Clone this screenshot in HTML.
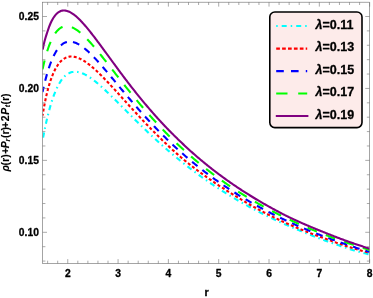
<!DOCTYPE html>
<html><head><meta charset="utf-8"><title>plot</title>
<style>
html,body{margin:0;padding:0;background:#fff;}
svg{display:block;}
text{font-family:"Liberation Sans",sans-serif;font-weight:bold;fill:#000;stroke:#000;stroke-width:0.3px;stroke-linejoin:round;}
svg{will-change:transform;}
.yl text{stroke-width:0.12px;}
</style></head><body>
<svg width="373" height="298" viewBox="0 0 373 298">
<rect width="373" height="298" fill="#fff"/>
<defs><clipPath id="c"><rect x="42.6" y="2.2" width="327.04999999999995" height="261.3"/></clipPath></defs>
<g clip-path="url(#c)">
<path d="M42.53,140.78 L43.35,136.37 L44.17,132.15 L44.99,128.11 L45.81,124.26 L46.63,120.58 L47.45,117.08 L48.27,113.76 L49.09,110.60 L49.91,107.60 L50.73,104.76 L51.55,102.08 L52.37,99.55 L53.19,97.16 L54.01,94.91 L54.83,92.80 L55.65,90.81 L56.47,88.96 L57.29,87.22 L58.11,85.60 L58.93,84.09 L59.75,82.69 L60.57,81.40 L61.39,80.20 L62.21,79.10 L63.03,78.10 L63.85,77.18 L64.67,76.34 L65.49,75.59 L66.31,74.91 L67.13,74.31 L67.95,73.78 L68.77,73.31 L69.59,72.92 L70.41,72.58 L71.23,72.31 L72.05,72.09 L72.87,71.93 L73.69,71.81 L74.51,71.75 L75.33,71.74 L76.15,71.77 L76.97,71.85 L77.80,71.97 L78.62,72.12 L79.44,72.32 L80.26,72.55 L81.08,72.81 L81.90,73.11 L82.72,73.44 L83.54,73.80 L84.36,74.19 L85.18,74.61 L86.00,75.05 L86.82,75.51 L87.64,76.00 L88.46,76.51 L89.28,77.04 L90.10,77.59 L90.92,78.17 L91.74,78.75 L92.56,79.36 L93.38,79.98 L94.20,80.62 L95.02,81.27 L95.84,81.93 L96.66,82.61 L97.48,83.29 L98.30,83.99 L99.12,84.69 L99.94,85.41 L100.76,86.14 L101.58,86.87 L102.40,87.61 L103.22,88.36 L104.04,89.11 L104.86,89.88 L105.68,90.64 L106.50,91.42 L107.32,92.20 L108.14,92.98 L108.96,93.77 L109.78,94.56 L110.60,95.35 L111.42,96.15 L112.25,96.96 L113.07,97.76 L113.89,98.57 L114.71,99.38 L115.53,100.19 L116.35,101.01 L117.17,101.82 L117.99,102.64 L118.81,103.46 L119.63,104.28 L120.45,105.10 L121.27,105.92 L122.09,106.75 L122.91,107.57 L123.73,108.39 L124.55,109.22 L125.37,110.04 L126.19,110.87 L127.01,111.69 L127.83,112.51 L128.65,113.34 L129.47,114.16 L130.29,114.98 L131.11,115.80 L131.93,116.62 L132.75,117.44 L133.57,118.26 L134.39,119.08 L135.21,119.90 L136.03,120.71 L136.85,121.52 L137.67,122.33 L138.49,123.14 L139.31,123.94 L140.13,124.75 L140.95,125.55 L141.77,126.35 L142.59,127.14 L143.41,127.94 L144.23,128.73 L145.05,129.52 L145.88,130.30 L146.70,131.09 L147.52,131.87 L148.34,132.65 L149.16,133.42 L149.98,134.19 L150.80,134.96 L151.62,135.73 L152.44,136.50 L153.26,137.26 L154.08,138.02 L154.90,138.77 L155.72,139.52 L156.54,140.27 L157.36,141.02 L158.18,141.76 L159.00,142.50 L159.82,143.24 L160.64,143.98 L161.46,144.71 L162.28,145.44 L163.10,146.16 L163.92,146.89 L164.74,147.61 L165.56,148.32 L166.38,149.04 L167.20,149.75 L168.02,150.46 L168.84,151.16 L169.66,151.86 L170.48,152.56 L171.30,153.26 L172.12,153.95 L172.94,154.64 L173.76,155.33 L174.58,156.01 L175.40,156.69 L176.22,157.37 L177.04,158.05 L177.86,158.72 L178.68,159.39 L179.50,160.05 L180.32,160.72 L181.15,161.38 L181.97,162.04 L182.79,162.69 L183.61,163.35 L184.43,164.00 L185.25,164.64 L186.07,165.29 L186.89,165.93 L187.71,166.57 L188.53,167.20 L189.35,167.84 L190.17,168.47 L190.99,169.09 L191.81,169.72 L192.63,170.34 L193.45,170.96 L194.27,171.57 L195.09,172.19 L195.91,172.80 L196.73,173.41 L197.55,174.01 L198.37,174.61 L199.19,175.21 L200.01,175.81 L200.83,176.40 L201.65,176.99 L202.47,177.58 L203.29,178.16 L204.11,178.75 L204.93,179.33 L205.75,179.90 L206.57,180.48 L207.39,181.05 L208.21,181.62 L209.03,182.18 L209.85,182.74 L210.67,183.30 L211.49,183.86 L212.31,184.42 L213.13,184.97 L213.95,185.52 L214.77,186.06 L215.60,186.61 L216.42,187.15 L217.24,187.68 L218.06,188.22 L218.88,188.75 L219.70,189.28 L220.52,189.81 L221.34,190.33 L222.16,190.86 L222.98,191.38 L223.80,191.89 L224.62,192.41 L225.44,192.92 L226.26,193.43 L227.08,193.94 L227.90,194.44 L228.72,194.95 L229.54,195.45 L230.36,195.95 L231.18,196.44 L232.00,196.94 L232.82,197.43 L233.64,197.92 L234.46,198.40 L235.28,198.89 L236.10,199.37 L236.92,199.85 L237.74,200.33 L238.56,200.80 L239.38,201.28 L240.20,201.75 L241.02,202.22 L241.84,202.68 L242.66,203.15 L243.48,203.61 L244.30,204.07 L245.12,204.53 L245.94,204.98 L246.76,205.43 L247.58,205.88 L248.40,206.33 L249.22,206.78 L250.05,207.22 L250.87,207.66 L251.69,208.10 L252.51,208.54 L253.33,208.98 L254.15,209.41 L254.97,209.84 L255.79,210.27 L256.61,210.70 L257.43,211.12 L258.25,211.54 L259.07,211.96 L259.89,212.38 L260.71,212.80 L261.53,213.21 L262.35,213.62 L263.17,214.03 L263.99,214.44 L264.81,214.85 L265.63,215.25 L266.45,215.66 L267.27,216.06 L268.09,216.45 L268.91,216.85 L269.73,217.25 L270.55,217.64 L271.37,218.03 L272.19,218.42 L273.01,218.81 L273.83,219.20 L274.65,219.58 L275.47,219.96 L276.29,220.34 L277.11,220.72 L277.93,221.10 L278.75,221.48 L279.57,221.85 L280.39,222.22 L281.21,222.59 L282.03,222.96 L282.85,223.33 L283.67,223.70 L284.50,224.06 L285.32,224.43 L286.14,224.79 L286.96,225.15 L287.78,225.51 L288.60,225.86 L289.42,226.22 L290.24,226.57 L291.06,226.93 L291.88,227.28 L292.70,227.63 L293.52,227.98 L294.34,228.32 L295.16,228.67 L295.98,229.01 L296.80,229.36 L297.62,229.70 L298.44,230.04 L299.26,230.38 L300.08,230.72 L300.90,231.05 L301.72,231.39 L302.54,231.73 L303.36,232.07 L304.18,232.40 L305.00,232.74 L305.82,233.07 L306.64,233.41 L307.46,233.74 L308.28,234.07 L309.10,234.41 L309.92,234.74 L310.74,235.07 L311.56,235.40 L312.38,235.72 L313.20,236.05 L314.02,236.37 L314.84,236.70 L315.66,237.02 L316.48,237.34 L317.30,237.66 L318.12,237.97 L318.95,238.29 L319.77,238.60 L320.59,238.91 L321.41,239.22 L322.23,239.52 L323.05,239.83 L323.87,240.13 L324.69,240.43 L325.51,240.73 L326.33,241.02 L327.15,241.32 L327.97,241.61 L328.79,241.90 L329.61,242.20 L330.43,242.49 L331.25,242.78 L332.07,243.06 L332.89,243.35 L333.71,243.64 L334.53,243.92 L335.35,244.21 L336.17,244.49 L336.99,244.77 L337.81,245.05 L338.63,245.33 L339.45,245.61 L340.27,245.89 L341.09,246.16 L341.91,246.44 L342.73,246.71 L343.55,246.99 L344.37,247.26 L345.19,247.53 L346.01,247.80 L346.83,248.07 L347.65,248.34 L348.47,248.60 L349.29,248.87 L350.11,249.14 L350.93,249.40 L351.75,249.65 L352.57,249.91 L353.40,250.16 L354.22,250.40 L355.04,250.64 L355.86,250.88 L356.68,251.12 L357.50,251.35 L358.32,251.59 L359.14,251.81 L359.96,252.04 L360.78,252.26 L361.60,252.49 L362.42,252.70 L363.24,252.92 L364.06,253.14 L364.88,253.35 L365.70,253.56 L366.52,253.78 L367.34,253.99 L368.16,254.19 L368.98,254.40 L369.65,254.61" fill="none" stroke="#00ffff" stroke-width="2.1" stroke-dasharray="1.5 3.7 5.2 3.7" stroke-dashoffset="2.0"/>
<path d="M42.53,115.67 L43.35,110.78 L44.17,106.24 L44.99,102.04 L45.81,98.14 L46.63,94.52 L47.45,91.16 L48.27,88.04 L49.09,85.15 L49.91,82.46 L50.73,79.97 L51.55,77.67 L52.37,75.53 L53.19,73.56 L54.01,71.73 L54.83,70.04 L55.65,68.49 L56.47,67.06 L57.29,65.75 L58.11,64.55 L58.93,63.46 L59.75,62.46 L60.57,61.56 L61.39,60.75 L62.21,60.02 L63.03,59.38 L63.85,58.80 L64.67,58.30 L65.49,57.87 L66.31,57.51 L67.13,57.21 L67.95,56.96 L68.77,56.78 L69.59,56.64 L70.41,56.56 L71.23,56.53 L72.05,56.55 L72.87,56.61 L73.69,56.71 L74.51,56.85 L75.33,57.03 L76.15,57.25 L76.97,57.51 L77.80,57.80 L78.62,58.12 L79.44,58.47 L80.26,58.85 L81.08,59.26 L81.90,59.70 L82.72,60.17 L83.54,60.65 L84.36,61.17 L85.18,61.70 L86.00,62.26 L86.82,62.83 L87.64,63.43 L88.46,64.04 L89.28,64.68 L90.10,65.33 L90.92,65.99 L91.74,66.68 L92.56,67.37 L93.38,68.08 L94.20,68.81 L95.02,69.54 L95.84,70.29 L96.66,71.05 L97.48,71.82 L98.30,72.60 L99.12,73.39 L99.94,74.19 L100.76,75.00 L101.58,75.82 L102.40,76.64 L103.22,77.47 L104.04,78.31 L104.86,79.16 L105.68,80.01 L106.50,80.86 L107.32,81.72 L108.14,82.59 L108.96,83.46 L109.78,84.34 L110.60,85.22 L111.42,86.10 L112.25,86.99 L113.07,87.88 L113.89,88.77 L114.71,89.66 L115.53,90.56 L116.35,91.46 L117.17,92.36 L117.99,93.26 L118.81,94.16 L119.63,95.06 L120.45,95.97 L121.27,96.87 L122.09,97.78 L122.91,98.68 L123.73,99.59 L124.55,100.49 L125.37,101.40 L126.19,102.30 L127.01,103.21 L127.83,104.11 L128.65,105.02 L129.47,105.92 L130.29,106.82 L131.11,107.72 L131.93,108.61 L132.75,109.51 L133.57,110.41 L134.39,111.30 L135.21,112.19 L136.03,113.08 L136.85,113.97 L137.67,114.85 L138.49,115.74 L139.31,116.62 L140.13,117.49 L140.95,118.37 L141.77,119.24 L142.59,120.12 L143.41,120.98 L144.23,121.85 L145.05,122.71 L145.88,123.57 L146.70,124.43 L147.52,125.28 L148.34,126.14 L149.16,126.98 L149.98,127.83 L150.80,128.67 L151.62,129.51 L152.44,130.35 L153.26,131.18 L154.08,132.01 L154.90,132.84 L155.72,133.66 L156.54,134.48 L157.36,135.30 L158.18,136.11 L159.00,136.92 L159.82,137.73 L160.64,138.53 L161.46,139.33 L162.28,140.13 L163.10,140.92 L163.92,141.71 L164.74,142.49 L165.56,143.28 L166.38,144.05 L167.20,144.83 L168.02,145.60 L168.84,146.37 L169.66,147.13 L170.48,147.89 L171.30,148.65 L172.12,149.41 L172.94,150.16 L173.76,150.90 L174.58,151.65 L175.40,152.39 L176.22,153.12 L177.04,153.85 L177.86,154.58 L178.68,155.31 L179.50,156.03 L180.32,156.74 L181.15,157.45 L181.97,158.15 L182.79,158.84 L183.61,159.53 L184.43,160.21 L185.25,160.89 L186.07,161.56 L186.89,162.23 L187.71,162.89 L188.53,163.54 L189.35,164.20 L190.17,164.84 L190.99,165.48 L191.81,166.12 L192.63,166.76 L193.45,167.39 L194.27,168.01 L195.09,168.63 L195.91,169.25 L196.73,169.87 L197.55,170.48 L198.37,171.09 L199.19,171.69 L200.01,172.30 L200.83,172.90 L201.65,173.49 L202.47,174.09 L203.29,174.68 L204.11,175.27 L204.93,175.86 L205.75,176.45 L206.57,177.03 L207.39,177.62 L208.21,178.20 L209.03,178.78 L209.85,179.36 L210.67,179.93 L211.49,180.51 L212.31,181.07 L213.13,181.64 L213.95,182.20 L214.77,182.76 L215.60,183.31 L216.42,183.87 L217.24,184.42 L218.06,184.96 L218.88,185.51 L219.70,186.05 L220.52,186.59 L221.34,187.13 L222.16,187.66 L222.98,188.19 L223.80,188.72 L224.62,189.25 L225.44,189.78 L226.26,190.30 L227.08,190.82 L227.90,191.34 L228.72,191.86 L229.54,192.38 L230.36,192.89 L231.18,193.40 L232.00,193.91 L232.82,194.42 L233.64,194.93 L234.46,195.44 L235.28,195.95 L236.10,196.45 L236.92,196.95 L237.74,197.45 L238.56,197.95 L239.38,198.45 L240.20,198.95 L241.02,199.44 L241.84,199.93 L242.66,200.42 L243.48,200.91 L244.30,201.40 L245.12,201.88 L245.94,202.37 L246.76,202.85 L247.58,203.33 L248.40,203.80 L249.22,204.27 L250.05,204.75 L250.87,205.21 L251.69,205.68 L252.51,206.14 L253.33,206.60 L254.15,207.06 L254.97,207.52 L255.79,207.97 L256.61,208.42 L257.43,208.87 L258.25,209.31 L259.07,209.75 L259.89,210.19 L260.71,210.63 L261.53,211.06 L262.35,211.50 L263.17,211.93 L263.99,212.36 L264.81,212.78 L265.63,213.21 L266.45,213.63 L267.27,214.05 L268.09,214.46 L268.91,214.88 L269.73,215.29 L270.55,215.70 L271.37,216.11 L272.19,216.52 L273.01,216.92 L273.83,217.33 L274.65,217.73 L275.47,218.12 L276.29,218.52 L277.11,218.91 L277.93,219.30 L278.75,219.69 L279.57,220.08 L280.39,220.47 L281.21,220.85 L282.03,221.23 L282.85,221.61 L283.67,221.98 L284.50,222.36 L285.32,222.73 L286.14,223.10 L286.96,223.47 L287.78,223.83 L288.60,224.20 L289.42,224.56 L290.24,224.92 L291.06,225.27 L291.88,225.63 L292.70,225.98 L293.52,226.33 L294.34,226.68 L295.16,227.03 L295.98,227.37 L296.80,227.72 L297.62,228.06 L298.44,228.40 L299.26,228.74 L300.08,229.07 L300.90,229.41 L301.72,229.74 L302.54,230.07 L303.36,230.40 L304.18,230.73 L305.00,231.05 L305.82,231.38 L306.64,231.70 L307.46,232.02 L308.28,232.34 L309.10,232.66 L309.92,232.98 L310.74,233.29 L311.56,233.61 L312.38,233.92 L313.20,234.23 L314.02,234.54 L314.84,234.85 L315.66,235.16 L316.48,235.47 L317.30,235.77 L318.12,236.07 L318.95,236.38 L319.77,236.68 L320.59,236.98 L321.41,237.28 L322.23,237.58 L323.05,237.88 L323.87,238.18 L324.69,238.48 L325.51,238.78 L326.33,239.08 L327.15,239.38 L327.97,239.68 L328.79,239.98 L329.61,240.28 L330.43,240.57 L331.25,240.87 L332.07,241.16 L332.89,241.46 L333.71,241.75 L334.53,242.04 L335.35,242.33 L336.17,242.62 L336.99,242.91 L337.81,243.20 L338.63,243.48 L339.45,243.77 L340.27,244.05 L341.09,244.33 L341.91,244.61 L342.73,244.89 L343.55,245.16 L344.37,245.44 L345.19,245.71 L346.01,245.98 L346.83,246.25 L347.65,246.51 L348.47,246.77 L349.29,247.04 L350.11,247.29 L350.93,247.55 L351.75,247.80 L352.57,248.05 L353.40,248.30 L354.22,248.55 L355.04,248.79 L355.86,249.03 L356.68,249.27 L357.50,249.51 L358.32,249.75 L359.14,249.98 L359.96,250.22 L360.78,250.45 L361.60,250.69 L362.42,250.92 L363.24,251.15 L364.06,251.38 L364.88,251.61 L365.70,251.84 L366.52,252.07 L367.34,252.29 L368.16,252.52 L368.98,252.74 L369.65,252.97" fill="none" stroke="#ff0000" stroke-width="2.1" stroke-dasharray="3.0 2.24" stroke-dashoffset="1.05"/>
<path d="M42.53,92.04 L43.35,88.36 L44.17,84.86 L44.99,81.53 L45.81,78.37 L46.63,75.38 L47.45,72.55 L48.27,69.88 L49.09,67.36 L49.91,64.99 L50.73,62.76 L51.55,60.68 L52.37,58.73 L53.19,56.91 L54.01,55.21 L54.83,53.64 L55.65,52.19 L56.47,50.85 L57.29,49.61 L58.11,48.49 L58.93,47.46 L59.75,46.53 L60.57,45.69 L61.39,44.94 L62.21,44.28 L63.03,43.70 L63.85,43.19 L64.67,42.77 L65.49,42.41 L66.31,42.12 L67.13,41.90 L67.95,41.74 L68.77,41.65 L69.59,41.61 L70.41,41.62 L71.23,41.69 L72.05,41.81 L72.87,41.98 L73.69,42.19 L74.51,42.45 L75.33,42.75 L76.15,43.08 L76.97,43.46 L77.80,43.87 L78.62,44.32 L79.44,44.80 L80.26,45.31 L81.08,45.85 L81.90,46.42 L82.72,47.02 L83.54,47.64 L84.36,48.29 L85.18,48.96 L86.00,49.65 L86.82,50.36 L87.64,51.09 L88.46,51.84 L89.28,52.61 L90.10,53.39 L90.92,54.19 L91.74,55.01 L92.56,55.84 L93.38,56.68 L94.20,57.53 L95.02,58.40 L95.84,59.27 L96.66,60.16 L97.48,61.06 L98.30,61.96 L99.12,62.88 L99.94,63.80 L100.76,64.73 L101.58,65.66 L102.40,66.60 L103.22,67.55 L104.04,68.50 L104.86,69.46 L105.68,70.42 L106.50,71.38 L107.32,72.35 L108.14,73.32 L108.96,74.30 L109.78,75.28 L110.60,76.25 L111.42,77.24 L112.25,78.22 L113.07,79.20 L113.89,80.19 L114.71,81.17 L115.53,82.16 L116.35,83.14 L117.17,84.13 L117.99,85.11 L118.81,86.10 L119.63,87.08 L120.45,88.07 L121.27,89.05 L122.09,90.03 L122.91,91.01 L123.73,91.99 L124.55,92.97 L125.37,93.94 L126.19,94.92 L127.01,95.89 L127.83,96.86 L128.65,97.82 L129.47,98.79 L130.29,99.75 L131.11,100.71 L131.93,101.66 L132.75,102.62 L133.57,103.57 L134.39,104.51 L135.21,105.46 L136.03,106.40 L136.85,107.34 L137.67,108.27 L138.49,109.20 L139.31,110.13 L140.13,111.06 L140.95,111.98 L141.77,112.90 L142.59,113.81 L143.41,114.72 L144.23,115.63 L145.05,116.53 L145.88,117.43 L146.70,118.33 L147.52,119.22 L148.34,120.11 L149.16,120.99 L149.98,121.87 L150.80,122.75 L151.62,123.62 L152.44,124.49 L153.26,125.35 L154.08,126.21 L154.90,127.07 L155.72,127.92 L156.54,128.77 L157.36,129.61 L158.18,130.46 L159.00,131.29 L159.82,132.12 L160.64,132.95 L161.46,133.78 L162.28,134.60 L163.10,135.42 L163.92,136.23 L164.74,137.04 L165.56,137.84 L166.38,138.64 L167.20,139.44 L168.02,140.23 L168.84,141.02 L169.66,141.80 L170.48,142.58 L171.30,143.36 L172.12,144.13 L172.94,144.90 L173.76,145.67 L174.58,146.43 L175.40,147.18 L176.22,147.94 L177.04,148.69 L177.86,149.43 L178.68,150.17 L179.50,150.91 L180.32,151.65 L181.15,152.38 L181.97,153.10 L182.79,153.82 L183.61,154.54 L184.43,155.26 L185.25,155.97 L186.07,156.68 L186.89,157.38 L187.71,158.08 L188.53,158.78 L189.35,159.47 L190.17,160.16 L190.99,160.84 L191.81,161.52 L192.63,162.20 L193.45,162.88 L194.27,163.55 L195.09,164.22 L195.91,164.88 L196.73,165.54 L197.55,166.20 L198.37,166.85 L199.19,167.50 L200.01,168.15 L200.83,168.79 L201.65,169.43 L202.47,170.07 L203.29,170.70 L204.11,171.33 L204.93,171.96 L205.75,172.58 L206.57,173.20 L207.39,173.82 L208.21,174.43 L209.03,175.04 L209.85,175.65 L210.67,176.25 L211.49,176.85 L212.31,177.45 L213.13,178.05 L213.95,178.64 L214.77,179.23 L215.60,179.81 L216.42,180.39 L217.24,180.97 L218.06,181.55 L218.88,182.12 L219.70,182.69 L220.52,183.26 L221.34,183.83 L222.16,184.39 L222.98,184.95 L223.80,185.50 L224.62,186.05 L225.44,186.60 L226.26,187.15 L227.08,187.70 L227.90,188.24 L228.72,188.78 L229.54,189.31 L230.36,189.85 L231.18,190.38 L232.00,190.90 L232.82,191.43 L233.64,191.95 L234.46,192.47 L235.28,192.99 L236.10,193.50 L236.92,194.01 L237.74,194.52 L238.56,195.03 L239.38,195.54 L240.20,196.04 L241.02,196.54 L241.84,197.03 L242.66,197.53 L243.48,198.02 L244.30,198.51 L245.12,198.99 L245.94,199.48 L246.76,199.96 L247.58,200.44 L248.40,200.92 L249.22,201.39 L250.05,201.87 L250.87,202.34 L251.69,202.80 L252.51,203.27 L253.33,203.73 L254.15,204.19 L254.97,204.65 L255.79,205.11 L256.61,205.56 L257.43,206.01 L258.25,206.46 L259.07,206.91 L259.89,207.36 L260.71,207.80 L261.53,208.24 L262.35,208.68 L263.17,209.12 L263.99,209.55 L264.81,209.99 L265.63,210.42 L266.45,210.84 L267.27,211.27 L268.09,211.70 L268.91,212.12 L269.73,212.54 L270.55,212.96 L271.37,213.37 L272.19,213.79 L273.01,214.20 L273.83,214.61 L274.65,215.02 L275.47,215.43 L276.29,215.83 L277.11,216.23 L277.93,216.63 L278.75,217.03 L279.57,217.43 L280.39,217.83 L281.21,218.22 L282.03,218.61 L282.85,219.00 L283.67,219.39 L284.50,219.78 L285.32,220.16 L286.14,220.54 L286.96,220.92 L287.78,221.30 L288.60,221.68 L289.42,222.06 L290.24,222.43 L291.06,222.80 L291.88,223.17 L292.70,223.54 L293.52,223.91 L294.34,224.28 L295.16,224.64 L295.98,225.00 L296.80,225.36 L297.62,225.72 L298.44,226.08 L299.26,226.44 L300.08,226.79 L300.90,227.14 L301.72,227.49 L302.54,227.84 L303.36,228.19 L304.18,228.54 L305.00,228.88 L305.82,229.23 L306.64,229.57 L307.46,229.91 L308.28,230.25 L309.10,230.59 L309.92,230.92 L310.74,231.26 L311.56,231.59 L312.38,231.92 L313.20,232.25 L314.02,232.58 L314.84,232.91 L315.66,233.23 L316.48,233.56 L317.30,233.88 L318.12,234.20 L318.95,234.52 L319.77,234.84 L320.59,235.16 L321.41,235.47 L322.23,235.79 L323.05,236.10 L323.87,236.41 L324.69,236.72 L325.51,237.03 L326.33,237.34 L327.15,237.65 L327.97,237.96 L328.79,238.26 L329.61,238.56 L330.43,238.86 L331.25,239.16 L332.07,239.46 L332.89,239.76 L333.71,240.06 L334.53,240.35 L335.35,240.65 L336.17,240.94 L336.99,241.23 L337.81,241.52 L338.63,241.81 L339.45,242.10 L340.27,242.39 L341.09,242.67 L341.91,242.96 L342.73,243.24 L343.55,243.53 L344.37,243.81 L345.19,244.09 L346.01,244.37 L346.83,244.64 L347.65,244.92 L348.47,245.20 L349.29,245.47 L350.11,245.74 L350.93,246.02 L351.75,246.29 L352.57,246.56 L353.40,246.83 L354.22,247.09 L355.04,247.36 L355.86,247.63 L356.68,247.89 L357.50,248.15 L358.32,248.42 L359.14,248.68 L359.96,248.94 L360.78,249.20 L361.60,249.46 L362.42,249.72 L363.24,249.97 L364.06,250.23 L364.88,250.48 L365.70,250.74 L366.52,250.99 L367.34,251.24 L368.16,251.49 L368.98,251.74 L369.65,251.99" fill="none" stroke="#0000ff" stroke-width="2.1" stroke-dasharray="6.9 6.17" stroke-dashoffset="1.5"/>
<path d="M42.53,69.38 L43.35,65.68 L44.17,62.21 L44.99,58.97 L45.81,55.93 L46.63,53.10 L47.45,50.45 L48.27,47.99 L49.09,45.70 L49.91,43.58 L50.73,41.62 L51.55,39.80 L52.37,38.13 L53.19,36.59 L54.01,35.18 L54.83,33.90 L55.65,32.74 L56.47,31.68 L57.29,30.74 L58.11,29.90 L58.93,29.15 L59.75,28.50 L60.57,27.94 L61.39,27.46 L62.21,27.06 L63.03,26.74 L63.85,26.49 L64.67,26.32 L65.49,26.20 L66.31,26.16 L67.13,26.17 L67.95,26.24 L68.77,26.37 L69.59,26.55 L70.41,26.77 L71.23,27.05 L72.05,27.37 L72.87,27.73 L73.69,28.14 L74.51,28.58 L75.33,29.06 L76.15,29.58 L76.97,30.13 L77.80,30.71 L78.62,31.32 L79.44,31.96 L80.26,32.63 L81.08,33.32 L81.90,34.04 L82.72,34.78 L83.54,35.55 L84.36,36.33 L85.18,37.14 L86.00,37.96 L86.82,38.80 L87.64,39.66 L88.46,40.53 L89.28,41.41 L90.10,42.32 L90.92,43.23 L91.74,44.16 L92.56,45.10 L93.38,46.04 L94.20,47.00 L95.02,47.97 L95.84,48.95 L96.66,49.93 L97.48,50.93 L98.30,51.93 L99.12,52.93 L99.94,53.95 L100.76,54.96 L101.58,55.99 L102.40,57.02 L103.22,58.05 L104.04,59.08 L104.86,60.12 L105.68,61.16 L106.50,62.21 L107.32,63.25 L108.14,64.30 L108.96,65.35 L109.78,66.40 L110.60,67.46 L111.42,68.51 L112.25,69.56 L113.07,70.62 L113.89,71.67 L114.71,72.72 L115.53,73.78 L116.35,74.83 L117.17,75.88 L117.99,76.93 L118.81,77.98 L119.63,79.03 L120.45,80.07 L121.27,81.12 L122.09,82.16 L122.91,83.20 L123.73,84.23 L124.55,85.27 L125.37,86.30 L126.19,87.33 L127.01,88.36 L127.83,89.38 L128.65,90.41 L129.47,91.42 L130.29,92.44 L131.11,93.45 L131.93,94.46 L132.75,95.47 L133.57,96.47 L134.39,97.47 L135.21,98.46 L136.03,99.45 L136.85,100.44 L137.67,101.42 L138.49,102.40 L139.31,103.38 L140.13,104.35 L140.95,105.32 L141.77,106.29 L142.59,107.25 L143.41,108.20 L144.23,109.15 L145.05,110.10 L145.88,111.05 L146.70,111.99 L147.52,112.92 L148.34,113.85 L149.16,114.78 L149.98,115.70 L150.80,116.62 L151.62,117.53 L152.44,118.44 L153.26,119.35 L154.08,120.25 L154.90,121.15 L155.72,122.04 L156.54,122.93 L157.36,123.81 L158.18,124.69 L159.00,125.57 L159.82,126.44 L160.64,127.30 L161.46,128.17 L162.28,129.02 L163.10,129.88 L163.92,130.73 L164.74,131.57 L165.56,132.41 L166.38,133.25 L167.20,134.08 L168.02,134.91 L168.84,135.73 L169.66,136.55 L170.48,137.36 L171.30,138.17 L172.12,138.98 L172.94,139.78 L173.76,140.58 L174.58,141.37 L175.40,142.16 L176.22,142.95 L177.04,143.73 L177.86,144.51 L178.68,145.28 L179.50,146.05 L180.32,146.81 L181.15,147.57 L181.97,148.33 L182.79,149.08 L183.61,149.83 L184.43,150.58 L185.25,151.32 L186.07,152.05 L186.89,152.79 L187.71,153.51 L188.53,154.24 L189.35,154.96 L190.17,155.68 L190.99,156.39 L191.81,157.10 L192.63,157.80 L193.45,158.51 L194.27,159.20 L195.09,159.90 L195.91,160.59 L196.73,161.28 L197.55,161.96 L198.37,162.64 L199.19,163.31 L200.01,163.98 L200.83,164.65 L201.65,165.32 L202.47,165.98 L203.29,166.64 L204.11,167.29 L204.93,167.94 L205.75,168.59 L206.57,169.23 L207.39,169.87 L208.21,170.51 L209.03,171.14 L209.85,171.77 L210.67,172.40 L211.49,173.02 L212.31,173.64 L213.13,174.26 L213.95,174.87 L214.77,175.48 L215.60,176.09 L216.42,176.69 L217.24,177.29 L218.06,177.89 L218.88,178.48 L219.70,179.07 L220.52,179.66 L221.34,180.25 L222.16,180.83 L222.98,181.41 L223.80,181.98 L224.62,182.55 L225.44,183.12 L226.26,183.69 L227.08,184.25 L227.90,184.81 L228.72,185.37 L229.54,185.92 L230.36,186.47 L231.18,187.02 L232.00,187.57 L232.82,188.11 L233.64,188.65 L234.46,189.19 L235.28,189.72 L236.10,190.26 L236.92,190.78 L237.74,191.31 L238.56,191.83 L239.38,192.35 L240.20,192.87 L241.02,193.39 L241.84,193.90 L242.66,194.41 L243.48,194.92 L244.30,195.42 L245.12,195.93 L245.94,196.43 L246.76,196.92 L247.58,197.42 L248.40,197.91 L249.22,198.40 L250.05,198.89 L250.87,199.37 L251.69,199.85 L252.51,200.33 L253.33,200.81 L254.15,201.28 L254.97,201.76 L255.79,202.23 L256.61,202.69 L257.43,203.16 L258.25,203.62 L259.07,204.08 L259.89,204.54 L260.71,205.00 L261.53,205.45 L262.35,205.90 L263.17,206.35 L263.99,206.80 L264.81,207.25 L265.63,207.69 L266.45,208.13 L267.27,208.57 L268.09,209.00 L268.91,209.44 L269.73,209.87 L270.55,210.30 L271.37,210.73 L272.19,211.15 L273.01,211.58 L273.83,212.00 L274.65,212.42 L275.47,212.84 L276.29,213.25 L277.11,213.66 L277.93,214.08 L278.75,214.49 L279.57,214.89 L280.39,215.30 L281.21,215.70 L282.03,216.10 L282.85,216.50 L283.67,216.90 L284.50,217.30 L285.32,217.69 L286.14,218.08 L286.96,218.47 L287.78,218.86 L288.60,219.25 L289.42,219.63 L290.24,220.02 L291.06,220.40 L291.88,220.78 L292.70,221.15 L293.52,221.53 L294.34,221.90 L295.16,222.28 L295.98,222.65 L296.80,223.02 L297.62,223.38 L298.44,223.75 L299.26,224.11 L300.08,224.48 L300.90,224.84 L301.72,225.19 L302.54,225.55 L303.36,225.91 L304.18,226.26 L305.00,226.61 L305.82,226.96 L306.64,227.31 L307.46,227.66 L308.28,228.01 L309.10,228.35 L309.92,228.69 L310.74,229.03 L311.56,229.37 L312.38,229.71 L313.20,230.05 L314.02,230.38 L314.84,230.72 L315.66,231.05 L316.48,231.38 L317.30,231.71 L318.12,232.04 L318.95,232.36 L319.77,232.69 L320.59,233.01 L321.41,233.33 L322.23,233.65 L323.05,233.97 L323.87,234.29 L324.69,234.61 L325.51,234.92 L326.33,235.24 L327.15,235.55 L327.97,235.86 L328.79,236.17 L329.61,236.48 L330.43,236.78 L331.25,237.09 L332.07,237.39 L332.89,237.70 L333.71,238.00 L334.53,238.30 L335.35,238.60 L336.17,238.89 L336.99,239.19 L337.81,239.49 L338.63,239.78 L339.45,240.07 L340.27,240.36 L341.09,240.65 L341.91,240.94 L342.73,241.23 L343.55,241.52 L344.37,241.80 L345.19,242.09 L346.01,242.37 L346.83,242.65 L347.65,242.93 L348.47,243.21 L349.29,243.49 L350.11,243.76 L350.93,244.04 L351.75,244.31 L352.57,244.59 L353.40,244.86 L354.22,245.13 L355.04,245.40 L355.86,245.67 L356.68,245.94 L357.50,246.21 L358.32,246.47 L359.14,246.74 L359.96,247.00 L360.78,247.26 L361.60,247.52 L362.42,247.78 L363.24,248.04 L364.06,248.30 L364.88,248.56 L365.70,248.81 L366.52,249.07 L367.34,249.32 L368.16,249.58 L368.98,249.83 L369.65,250.08" fill="none" stroke="#00ff00" stroke-width="2.1" stroke-dasharray="10.05 9.55" stroke-dashoffset="0.9"/>
<path d="M42.68,49.54 L43.54,45.36 L44.46,41.54 L45.43,38.05 L46.40,34.86 L47.34,31.96 L48.24,29.33 L49.09,26.93 L49.94,24.76 L50.79,22.80 L51.63,21.03 L52.47,19.44 L53.31,18.01 L54.15,16.75 L54.98,15.63 L55.81,14.64 L56.64,13.78 L57.47,13.04 L58.29,12.41 L59.11,11.88 L59.92,11.45 L60.72,11.10 L61.51,10.84 L62.30,10.66 L63.09,10.56 L63.88,10.52 L64.66,10.54 L65.45,10.62 L66.23,10.76 L67.00,10.95 L67.77,11.18 L68.54,11.47 L69.30,11.80 L70.07,12.17 L70.83,12.58 L71.61,13.03 L72.38,13.53 L73.17,14.05 L73.96,14.62 L74.74,15.22 L75.53,15.85 L76.32,16.52 L77.10,17.22 L77.89,17.96 L78.69,18.72 L79.48,19.52 L80.28,20.34 L81.09,21.19 L81.90,22.06 L82.72,22.95 L83.54,23.86 L84.36,24.79 L85.18,25.73 L86.00,26.69 L86.82,27.67 L87.64,28.66 L88.46,29.66 L89.28,30.67 L90.10,31.69 L90.92,32.73 L91.74,33.77 L92.56,34.82 L93.38,35.88 L94.20,36.94 L95.02,38.01 L95.84,39.09 L96.66,40.17 L97.48,41.27 L98.30,42.36 L99.12,43.46 L99.94,44.57 L100.76,45.67 L101.58,46.78 L102.40,47.90 L103.22,49.02 L104.04,50.14 L104.86,51.26 L105.68,52.38 L106.50,53.50 L107.32,54.63 L108.14,55.75 L108.96,56.88 L109.78,58.00 L110.60,59.13 L111.42,60.25 L112.25,61.38 L113.07,62.50 L113.89,63.62 L114.71,64.74 L115.53,65.86 L116.35,66.98 L117.17,68.10 L117.99,69.21 L118.81,70.32 L119.63,71.43 L120.45,72.53 L121.27,73.63 L122.09,74.73 L122.91,75.82 L123.73,76.91 L124.55,78.00 L125.37,79.08 L126.19,80.16 L127.01,81.23 L127.83,82.30 L128.65,83.37 L129.47,84.43 L130.29,85.49 L131.11,86.55 L131.93,87.60 L132.75,88.64 L133.57,89.68 L134.39,90.72 L135.21,91.75 L136.03,92.78 L136.85,93.81 L137.67,94.83 L138.49,95.84 L139.31,96.85 L140.13,97.86 L140.95,98.86 L141.77,99.86 L142.59,100.86 L143.41,101.84 L144.23,102.83 L145.05,103.81 L145.88,104.79 L146.70,105.76 L147.52,106.73 L148.34,107.69 L149.16,108.65 L149.98,109.60 L150.80,110.55 L151.62,111.50 L152.44,112.43 L153.26,113.37 L154.08,114.30 L154.90,115.22 L155.72,116.14 L156.54,117.05 L157.36,117.96 L158.18,118.86 L159.00,119.76 L159.82,120.65 L160.64,121.54 L161.46,122.42 L162.28,123.30 L163.10,124.17 L163.92,125.04 L164.74,125.91 L165.56,126.77 L166.38,127.62 L167.20,128.47 L168.02,129.32 L168.84,130.16 L169.66,131.00 L170.48,131.83 L171.30,132.66 L172.12,133.49 L172.94,134.31 L173.76,135.13 L174.58,135.94 L175.40,136.75 L176.22,137.56 L177.04,138.36 L177.86,139.16 L178.68,139.95 L179.50,140.74 L180.32,141.53 L181.15,142.31 L181.97,143.09 L182.79,143.87 L183.61,144.64 L184.43,145.41 L185.25,146.18 L186.07,146.94 L186.89,147.70 L187.71,148.45 L188.53,149.20 L189.35,149.94 L190.17,150.68 L190.99,151.42 L191.81,152.15 L192.63,152.88 L193.45,153.60 L194.27,154.32 L195.09,155.04 L195.91,155.75 L196.73,156.46 L197.55,157.17 L198.37,157.87 L199.19,158.56 L200.01,159.26 L200.83,159.95 L201.65,160.63 L202.47,161.32 L203.29,161.99 L204.11,162.67 L204.93,163.34 L205.75,164.01 L206.57,164.67 L207.39,165.33 L208.21,165.99 L209.03,166.65 L209.85,167.30 L210.67,167.94 L211.49,168.59 L212.31,169.23 L213.13,169.87 L213.95,170.50 L214.77,171.13 L215.60,171.76 L216.42,172.38 L217.24,173.00 L218.06,173.62 L218.88,174.24 L219.70,174.85 L220.52,175.46 L221.34,176.06 L222.16,176.67 L222.98,177.27 L223.80,177.86 L224.62,178.46 L225.44,179.05 L226.26,179.64 L227.08,180.23 L227.90,180.81 L228.72,181.39 L229.54,181.97 L230.36,182.54 L231.18,183.11 L232.00,183.68 L232.82,184.25 L233.64,184.81 L234.46,185.37 L235.28,185.93 L236.10,186.48 L236.92,187.03 L237.74,187.58 L238.56,188.13 L239.38,188.67 L240.20,189.21 L241.02,189.75 L241.84,190.28 L242.66,190.82 L243.48,191.34 L244.30,191.87 L245.12,192.39 L245.94,192.92 L246.76,193.43 L247.58,193.95 L248.40,194.46 L249.22,194.98 L250.05,195.49 L250.87,195.99 L251.69,196.50 L252.51,197.00 L253.33,197.50 L254.15,198.00 L254.97,198.49 L255.79,198.99 L256.61,199.48 L257.43,199.97 L258.25,200.45 L259.07,200.94 L259.89,201.42 L260.71,201.90 L261.53,202.38 L262.35,202.85 L263.17,203.32 L263.99,203.79 L264.81,204.26 L265.63,204.73 L266.45,205.19 L267.27,205.65 L268.09,206.11 L268.91,206.57 L269.73,207.02 L270.55,207.47 L271.37,207.93 L272.19,208.38 L273.01,208.83 L273.83,209.28 L274.65,209.72 L275.47,210.17 L276.29,210.61 L277.11,211.05 L277.93,211.49 L278.75,211.92 L279.57,212.36 L280.39,212.79 L281.21,213.22 L282.03,213.64 L282.85,214.07 L283.67,214.49 L284.50,214.90 L285.32,215.32 L286.14,215.73 L286.96,216.13 L287.78,216.54 L288.60,216.94 L289.42,217.33 L290.24,217.72 L291.06,218.11 L291.88,218.50 L292.70,218.89 L293.52,219.27 L294.34,219.65 L295.16,220.03 L295.98,220.41 L296.80,220.78 L297.62,221.16 L298.44,221.53 L299.26,221.90 L300.08,222.27 L300.90,222.63 L301.72,222.99 L302.54,223.36 L303.36,223.72 L304.18,224.07 L305.00,224.43 L305.82,224.79 L306.64,225.14 L307.46,225.49 L308.28,225.84 L309.10,226.19 L309.92,226.53 L310.74,226.88 L311.56,227.22 L312.38,227.56 L313.20,227.90 L314.02,228.24 L314.84,228.58 L315.66,228.92 L316.48,229.25 L317.30,229.59 L318.12,229.92 L318.95,230.25 L319.77,230.58 L320.59,230.91 L321.41,231.24 L322.23,231.57 L323.05,231.90 L323.87,232.23 L324.69,232.56 L325.51,232.89 L326.33,233.21 L327.15,233.54 L327.97,233.87 L328.79,234.19 L329.61,234.52 L330.43,234.84 L331.25,235.17 L332.07,235.49 L332.89,235.81 L333.71,236.13 L334.53,236.45 L335.35,236.77 L336.17,237.09 L336.99,237.40 L337.81,237.71 L338.63,238.03 L339.45,238.34 L340.27,238.64 L341.09,238.95 L341.91,239.25 L342.73,239.56 L343.55,239.86 L344.37,240.16 L345.19,240.45 L346.01,240.75 L346.83,241.04 L347.65,241.33 L348.47,241.62 L349.29,241.91 L350.11,242.20 L350.93,242.49 L351.75,242.77 L352.57,243.06 L353.40,243.34 L354.22,243.62 L355.04,243.90 L355.86,244.18 L356.68,244.46 L357.50,244.73 L358.32,245.01 L359.14,245.28 L359.96,245.55 L360.78,245.83 L361.60,246.10 L362.42,246.37 L363.24,246.63 L364.06,246.90 L364.88,247.16 L365.70,247.43 L366.52,247.69 L367.34,247.95 L368.16,248.21 L368.98,248.47 L369.65,248.73" fill="none" stroke="#800080" stroke-width="2.1"/>
</g>
<rect x="42.6" y="2.2" width="327.04999999999995" height="261.3" fill="none" stroke="#727272" stroke-width="0.64"/>
<path d="M47.63,263.5 v-2.8 M47.63,2.2 v2.8 M57.69,263.5 v-2.8 M57.69,2.2 v2.8 M67.76,263.5 v-4.4 M67.76,2.2 v4.4 M77.82,263.5 v-2.8 M77.82,2.2 v2.8 M87.88,263.5 v-2.8 M87.88,2.2 v2.8 M97.95,263.5 v-2.8 M97.95,2.2 v2.8 M108.01,263.5 v-2.8 M108.01,2.2 v2.8 M118.07,263.5 v-4.4 M118.07,2.2 v4.4 M128.14,263.5 v-2.8 M128.14,2.2 v2.8 M138.20,263.5 v-2.8 M138.20,2.2 v2.8 M148.26,263.5 v-2.8 M148.26,2.2 v2.8 M158.33,263.5 v-2.8 M158.33,2.2 v2.8 M168.39,263.5 v-4.4 M168.39,2.2 v4.4 M178.45,263.5 v-2.8 M178.45,2.2 v2.8 M188.51,263.5 v-2.8 M188.51,2.2 v2.8 M198.58,263.5 v-2.8 M198.58,2.2 v2.8 M208.64,263.5 v-2.8 M208.64,2.2 v2.8 M218.70,263.5 v-4.4 M218.70,2.2 v4.4 M228.77,263.5 v-2.8 M228.77,2.2 v2.8 M238.83,263.5 v-2.8 M238.83,2.2 v2.8 M248.89,263.5 v-2.8 M248.89,2.2 v2.8 M258.96,263.5 v-2.8 M258.96,2.2 v2.8 M269.02,263.5 v-4.4 M269.02,2.2 v4.4 M279.08,263.5 v-2.8 M279.08,2.2 v2.8 M289.15,263.5 v-2.8 M289.15,2.2 v2.8 M299.21,263.5 v-2.8 M299.21,2.2 v2.8 M309.27,263.5 v-2.8 M309.27,2.2 v2.8 M319.33,263.5 v-4.4 M319.33,2.2 v4.4 M329.40,263.5 v-2.8 M329.40,2.2 v2.8 M339.46,263.5 v-2.8 M339.46,2.2 v2.8 M349.52,263.5 v-2.8 M349.52,2.2 v2.8 M359.59,263.5 v-2.8 M359.59,2.2 v2.8 M369.65,263.5 v-4.4 M369.65,2.2 v4.4 M42.6,261.07 h2.8 M369.65,261.07 h-2.8 M42.6,246.69 h2.8 M369.65,246.69 h-2.8 M42.6,232.30 h4.4 M369.65,232.30 h-4.4 M42.6,217.91 h2.8 M369.65,217.91 h-2.8 M42.6,203.53 h2.8 M369.65,203.53 h-2.8 M42.6,189.14 h2.8 M369.65,189.14 h-2.8 M42.6,174.75 h2.8 M369.65,174.75 h-2.8 M42.6,160.37 h4.4 M369.65,160.37 h-4.4 M42.6,145.98 h2.8 M369.65,145.98 h-2.8 M42.6,131.59 h2.8 M369.65,131.59 h-2.8 M42.6,117.20 h2.8 M369.65,117.20 h-2.8 M42.6,102.82 h2.8 M369.65,102.82 h-2.8 M42.6,88.43 h4.4 M369.65,88.43 h-4.4 M42.6,74.04 h2.8 M369.65,74.04 h-2.8 M42.6,59.66 h2.8 M369.65,59.66 h-2.8 M42.6,45.27 h2.8 M369.65,45.27 h-2.8 M42.6,30.88 h2.8 M369.65,30.88 h-2.8 M42.6,16.50 h4.4 M369.65,16.50 h-4.4" fill="none" stroke="#727272" stroke-width="0.6"/>
<g font-size="10.3"><text x="67.76" y="276.7" text-anchor="middle">2</text><text x="118.07" y="276.7" text-anchor="middle">3</text><text x="168.39" y="276.7" text-anchor="middle">4</text><text x="218.70" y="276.7" text-anchor="middle">5</text><text x="269.02" y="276.7" text-anchor="middle">6</text><text x="319.33" y="276.7" text-anchor="middle">7</text><text x="369.65" y="276.7" text-anchor="middle">8</text><text x="38.9" y="235.85" text-anchor="end">0.10</text><text x="38.9" y="163.92" text-anchor="end">0.15</text><text x="38.9" y="91.98" text-anchor="end">0.20</text><text x="38.9" y="20.05" text-anchor="end">0.25</text></g>
<text x="206.5" y="296.1" text-anchor="middle" font-size="10.8">r</text>
<g class="yl" transform="translate(8.75,171.3) rotate(-90) scale(1.05,1)"><text x="-0.29" y="0" font-size="10" font-style="italic">ρ</text><text x="5.62" y="0" font-size="10">(r)</text><text x="16.38" y="0" font-size="10">+</text><text x="21.86" y="0" font-size="10" font-style="italic">P</text><text x="28.43" y="1.6" font-size="7" font-style="italic">r</text><text x="31.62" y="0" font-size="10">(r)</text><text x="41.14" y="0" font-size="10">+</text><text x="47.71" y="0" font-size="10">2</text><text x="53.86" y="0" font-size="10" font-style="italic">P</text><text x="61.05" y="1.6" font-size="7" font-style="italic">t</text><text x="63.52" y="0" font-size="10">(r)</text></g>
<rect x="269.8" y="12.0" width="92.2" height="115.6" rx="5" ry="5" fill="#fdebea" stroke="#000" stroke-width="1.6"/>
<path d="M276.2,26.0 H307.2" fill="none" stroke="#00ffff" stroke-width="2.1" stroke-dasharray="1.5 4 5 4"/>
<text x="315.5" y="29.0" font-size="12.5"><tspan font-style="italic">λ</tspan>=0.11</text>
<path d="M276.2,48.6 H307.2" fill="none" stroke="#ff0000" stroke-width="2.1" stroke-dasharray="3.7 2.2"/>
<text x="315.5" y="51.1" font-size="12.5"><tspan font-style="italic">λ</tspan>=0.13</text>
<path d="M276.2,71.1 H307.2" fill="none" stroke="#0000ff" stroke-width="2.1" stroke-dasharray="7.6 7.2"/>
<text x="315.5" y="73.6" font-size="12.5"><tspan font-style="italic">λ</tspan>=0.15</text>
<path d="M276.2,93.5 H307.2" fill="none" stroke="#00ff00" stroke-width="2.1" stroke-dasharray="11.3 10.7"/>
<text x="315.5" y="96.0" font-size="12.5"><tspan font-style="italic">λ</tspan>=0.17</text>
<path d="M275.8,116.0 H308.4" fill="none" stroke="#800080" stroke-width="2.1"/>
<text x="315.5" y="118.5" font-size="12.5"><tspan font-style="italic">λ</tspan>=0.19</text>
</svg>
</body></html>
